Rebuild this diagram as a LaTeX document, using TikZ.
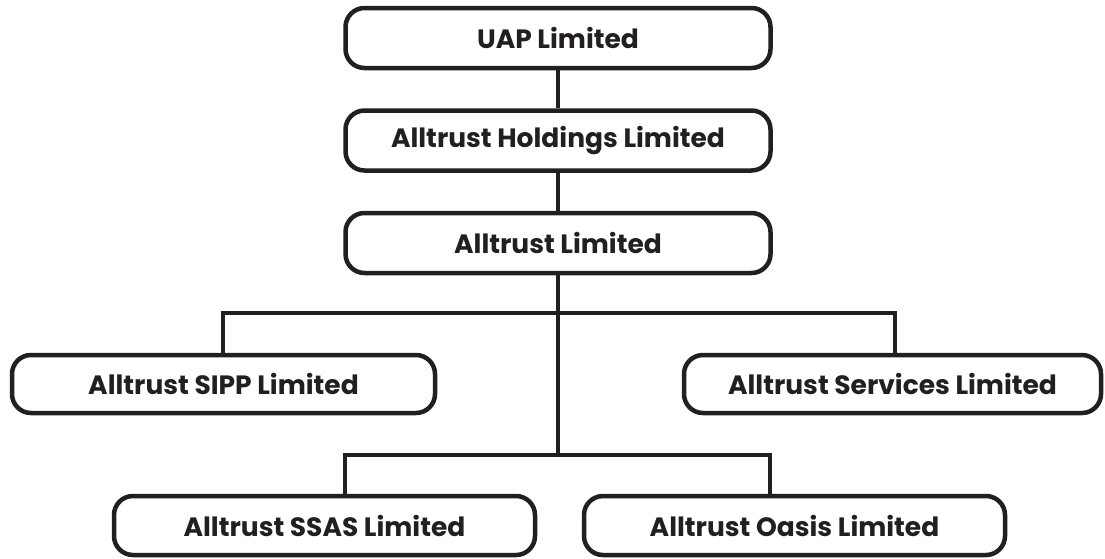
\documentclass[tikz,border=0pt]{standalone}
\usepackage{fontspec}
\setmainfont{Poppins}
\definecolor{ink}{HTML}{231F20}
\begin{document}
\begin{tikzpicture}[x=1pt,y=-1pt,
  orgbox/.style={draw=ink, line width=4.5pt, rounded corners=19pt, fill=white,
    minimum width=425pt, minimum height=60pt, inner sep=0pt, text=ink,
    font=\fontsize{26.5pt}{30pt}\selectfont\bfseries},
  link/.style={draw=ink, line width=4pt, line join=miter}]
\useasboundingbox (0,0) rectangle (1105,558);
\node[orgbox] (uap) at (558,38) {UAP Limited};
\node[orgbox] (hold) at (558,140.5) {Alltrust Holdings Limited};
\node[orgbox] (all) at (558,243) {Alltrust Limited};
\node[orgbox, minimum width=423pt, minimum height=58pt] (sipp) at (223.5,384) {Alltrust SIPP Limited};
\node[orgbox, minimum width=417pt, minimum height=58pt] (serv) at (892.5,384) {Alltrust Services Limited};
\node[orgbox, minimum width=421pt, minimum height=59pt] (ssas) at (324.5,525.5) {Alltrust SSAS Limited};
\node[orgbox, minimum width=421pt, minimum height=59pt] (oasis) at (794.5,525.5) {Alltrust Oasis Limited};
\coordinate (j1l) at (223,313);
\coordinate (j1r) at (895,313);
\coordinate (j2) at (558,455);
\coordinate (j2l) at (345,455);
\coordinate (j2r) at (770,455);
\draw[link] (uap) -- (hold);
\draw[link] (hold) -- (all);
\draw[link] (all.south) -- (j2);
\draw[link] (sipp.north -| j1l) -- (j1l) -- (j1r) -- (serv.north -| j1r);
\draw[link] (ssas.north -| j2l) -- (j2l) -- (j2r) -- (oasis.north -| j2r);
\end{tikzpicture}
\end{document}
